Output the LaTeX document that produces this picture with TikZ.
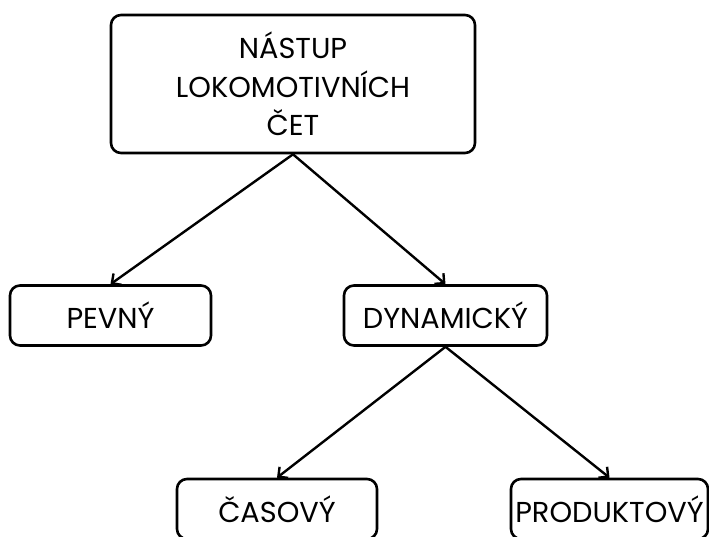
\documentclass[tikz,border=0pt]{standalone}
\usepackage{fontspec}
\setmainfont{Poppins}
\usetikzlibrary{arrows.meta}
\begin{document}
\begin{tikzpicture}[x=1pt,y=-1pt,
  box/.style={draw=black, line width=2.6pt, rounded corners=10pt, inner sep=0pt,
    align=center, font=\fontsize{28.8}{38.5}\selectfont},
  arr/.style={line width=2.4pt, -{Straight Barb[length=7pt,width=14pt,line width=2.4pt]}}]
\useasboundingbox (0,0) rectangle (709,536);
\clip (0,0) rectangle (709,536);
\node[box, minimum width=364pt, minimum height=138pt] (root) at (293,84) {NÁSTUP\\LOKOMOTIVNÍCH\\ČET};
\node[box, minimum width=201pt, minimum height=60pt] (pevny) at (110.5,315.5) {PEVNÝ};
\node[box, minimum width=203pt, minimum height=60pt] (dyn) at (445.5,315.5) {DYNAMICKÝ};
\node[box, minimum width=200pt, minimum height=60pt] (cas) at (277,509) {ČASOVÝ};
\node[box, minimum width=197pt, minimum height=60pt] (prod) at (609.5,509) {PRODUKTOVÝ};
\draw[arr] (root.south) -- (pevny.north);
\draw[arr] (root.south) -- (dyn.north);
\draw[arr] (dyn.south) -- (cas.north);
\draw[arr] (dyn.south) -- (prod.north);
\end{tikzpicture}
\end{document}
